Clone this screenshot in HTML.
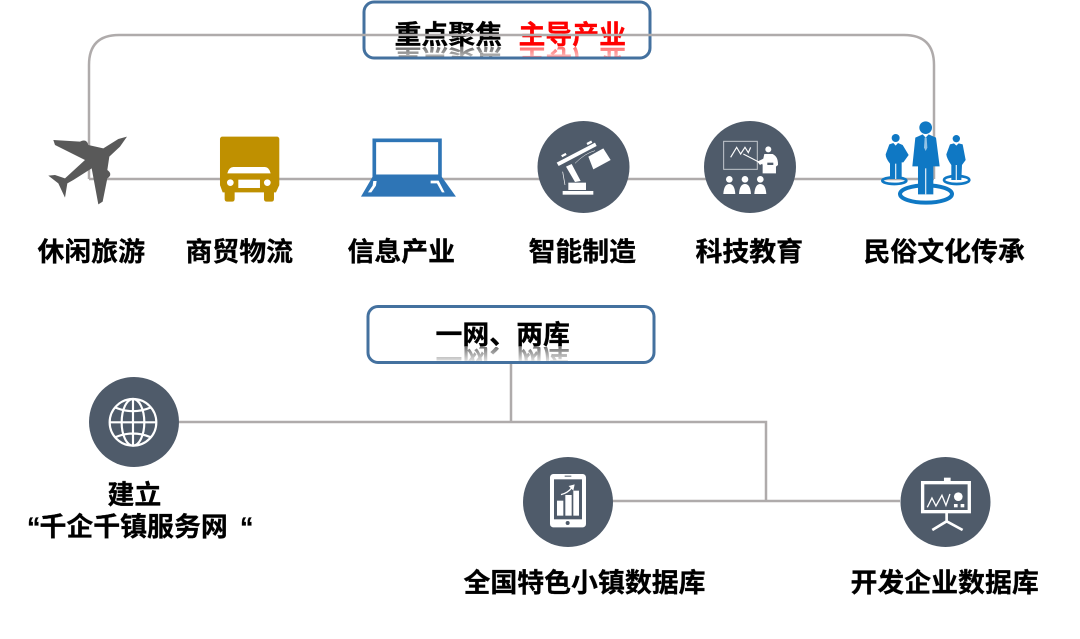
<!DOCTYPE html>
<html><head><meta charset="utf-8"><style>
html,body{margin:0;padding:0;background:#fff;width:1080px;height:639px;overflow:hidden}
svg{display:block}
text{font-family:"Liberation Sans","Noto Sans CJK SC",sans-serif;font-weight:700;font-size:26.9px;fill:#000;stroke:#000;stroke-width:.3px}
</style></head><body>
<svg width="1080" height="639" viewBox="0 0 1080 639" xmlns="http://www.w3.org/2000/svg">
<defs>
<linearGradient id="gb" x1="0" y1="1" x2="0" y2="0"><stop offset="0.05" stop-color="#000" stop-opacity=".65"/><stop offset="0.72" stop-color="#000" stop-opacity=".04"/><stop offset="0.8" stop-color="#000" stop-opacity="0"/></linearGradient>
<linearGradient id="gr" x1="0" y1="1" x2="0" y2="0"><stop offset="0.05" stop-color="#f00" stop-opacity=".65"/><stop offset="0.72" stop-color="#f00" stop-opacity=".04"/><stop offset="0.8" stop-color="#f00" stop-opacity="0"/></linearGradient>
<clipPath id="c1"><rect x="365" y="47" width="284" height="10"/></clipPath>
<clipPath id="c2"><rect x="369" y="347" width="284" height="14"/></clipPath>
</defs>

<!-- top box -->
<rect x="364" y="2" width="286" height="56" rx="10" fill="#fff" stroke="#44719f" stroke-width="3"/>
<g clip-path="url(#c1)"><g transform="translate(0,93) scale(1,-1)"><text x="394.500" y="44" style="fill:url(#gb);stroke:none">重点聚焦</text><text x="518.500" y="44" style="fill:url(#gr);stroke:none">主导产业</text></g></g>
<text x="394.500" y="44">重点聚焦</text>
<text x="518.500" y="44" style="fill:#f00;stroke:#f00">主导产业</text>

<!-- top connectors -->
<path d="M89 179V65Q89 35 119 35H904Q934 35 934 65V179M89 179H934" fill="none" stroke="#afabab" stroke-width="2.5"/>

<!-- plane -->
<g transform="translate(30,115) scale(.3333)">
<path fill="#595959" d="M291 65L265 72L220 100L175 90Q170 70 150 80L70 75L75 90L165 135L105 190L75 180L55 182L85 205L105 248L112 205L130 195L185 160L205 268L218 260L232 190Q250 178 232 165L238 125L270 95Z"/>
</g>

<!-- truck -->
<g transform="translate(30,115) scale(.3333)">
<rect x="570" y="65" width="178" height="150" rx="7" fill="#bf9000"/>
<path d="M570 210H748L738 232H732V252Q732 260 724 260H710Q702 260 702 252V232H614V252Q614 260 606 260H592Q584 260 584 252V232H578Z" fill="#bf9000"/>
<path d="M592 175Q596 157 610 156H705Q718 157 722 175Z" fill="#fff"/>
<circle cx="601" cy="203" r="10" fill="#fff"/><circle cx="712" cy="203" r="10" fill="#fff"/>
<rect x="625" y="194" width="65" height="25" fill="#fff"/>
</g>

<!-- laptop -->
<g transform="translate(30,115) scale(.3333)">
<rect x="1033" y="76" width="197" height="108" fill="#fff" stroke="#2e75b6" stroke-width="11"/>
<path d="M1028 185H1235L1278 245H993Z" fill="#2e75b6"/>
<path d="M1030 198L1028 212L1014 232L1024 232L1038 212L1040 198Z" fill="#fff"/>
<path d="M1202 197H1226L1244 232H1236L1221 205H1202Z" fill="#fff"/>
</g>

<!-- robot arm circle -->
<circle cx="583.500" cy="167" r="46" fill="#4f5b6a"/>
<g transform="translate(520,110) scale(.3333)" fill="#fff">
<rect x="128" y="243" width="92" height="11"/>
<rect x="145" y="218" width="53" height="22"/>
<path d="M138 170L155 162L182 213L165 216Z"/>
<path d="M110 158L225 98L230 108L116 168Z"/>
<rect x="124" y="132" width="15" height="7" transform="rotate(-28 131 135)"/>
<rect x="200" y="95" width="16" height="7" transform="rotate(-28 208 98)"/>
<path d="M205 140L250 115L272 150L220 178Z"/>
<path d="M165 160Q195 130 225 122" fill="none" stroke="#fff" stroke-width="1.500"/>
<path d="M128 185L135 225" fill="none" stroke="#fff" stroke-width="2"/>
</g>

<!-- teaching circle -->
<circle cx="750" cy="167" r="46" fill="#4f5b6a"/>
<g transform="translate(520,110) scale(.3333)" fill="#fff">
<rect x="611" y="94" width="101" height="84" fill="none" stroke="#c3c8ce" stroke-width="3"/>
<path d="M632 142L650 112L662 132L675 112L685 128L692 112" fill="none" stroke="#fff" stroke-width="3.500"/>
<path d="M670 132L728 162" stroke="#fff" stroke-width="3" fill="none"/>
<circle cx="745" cy="118" r="9"/>
<path d="M733 132H758Q775 140 774 165L768 170V190H728V160L720 165L712 155L730 146Z"/>
<rect x="742" y="158" width="18" height="7" fill="#4f5b6a"/>
<circle cx="628" cy="208" r="10"/><path d="M610 252Q612 222 628 222Q644 222 646 252Z"/>
<circle cx="675" cy="208" r="10"/><path d="M657 252Q659 222 675 222Q691 222 693 252Z"/>
<circle cx="721" cy="208" r="10"/><path d="M703 252Q705 222 721 222Q737 222 739 252Z"/>
</g>

<!-- people -->
<g transform="translate(880,115) scale(.3333)" fill="#0f78c4">
<ellipse cx="43" cy="197" rx="36" ry="10" fill="none" stroke="#0f78c4" stroke-width="8"/>
<ellipse cx="230" cy="195" rx="38" ry="12" fill="none" stroke="#0f78c4" stroke-width="8"/>
<ellipse cx="138" cy="237" rx="78" ry="26" fill="none" stroke="#0f78c4" stroke-width="12"/>
<circle cx="137" cy="38" r="19"/>
<path d="M106 68L128 58L137 68L146 58L168 68L179 154H160L160 238H114L114 154H97Z"/>
<rect x="135" y="160" width="4" height="78" fill="#fff" opacity=".8"/>
<path d="M134 68L140 68L142 98L137 108L132 98Z" fill="#fff" opacity=".55"/>
<circle cx="47" cy="69" r="12"/>
<path d="M28 88L40 84L47 92L54 84L68 90L86 120L70 142H65V192H30V146Q17 130 17 118Z"/>
<rect x="45" y="146" width="4" height="46" fill="#fff" opacity=".8"/>
<circle cx="229" cy="71" r="11"/>
<path d="M210 88L222 85L229 92L236 85L248 88L257 135L246 150L244 195H214V150Q200 130 199 118Z"/>
<rect x="227" y="150" width="4" height="45" fill="#fff" opacity=".8"/>
</g>

<!-- top labels -->
<text x="37.500" y="261">休闲旅游</text>
<text x="185.500" y="261">商贸物流</text>
<text x="347.500" y="261">信息产业</text>
<text x="528.500" y="261">智能制造</text>
<text x="695.500" y="261">科技教育</text>
<text x="863.500" y="261">民俗文化传承</text>

<!-- lower box -->
<rect x="368" y="306.500" width="286" height="56" rx="10" fill="#fff" stroke="#44719f" stroke-width="3"/>
<g clip-path="url(#c2)"><g transform="translate(0,692) scale(1,-1)"><text x="435.500" y="344" style="fill:url(#gb);stroke:none">一网、两库</text></g></g>
<text x="435.500" y="344">一网、两库</text>

<!-- lower connectors -->
<path d="M511 364V422M179 422H766V501M612 501H900" fill="none" stroke="#afabab" stroke-width="2.500"/>

<!-- globe -->
<circle cx="134" cy="422" r="45" fill="#4f5b6a"/>
<g transform="translate(20,370) scale(.3333)" fill="none" stroke="#fff" stroke-width="6.500">
<circle cx="339" cy="157" r="70"/>
<ellipse cx="339" cy="157" rx="34" ry="70"/>
<path d="M339 87V227M269 157H409M285 112Q339 135 393 112M285 202Q339 179 393 202"/>
</g>

<!-- tablet -->
<circle cx="568" cy="502" r="45" fill="#4f5b6a"/>
<g transform="translate(510,450) scale(.3333)">
<rect x="120" y="72" width="108" height="160" rx="10" fill="#fff"/>
<rect x="132" y="88" width="84" height="120" fill="#4f5b6a"/>
<rect x="164" y="77" width="20" height="3" fill="#4f5b6a"/>
<circle cx="173" cy="219" r="6" fill="#4f5b6a"/>
<rect x="141" y="152" width="19" height="45" fill="#fff"/>
<rect x="166" y="135" width="19" height="62" fill="#fff"/>
<rect x="190" y="122" width="17" height="75" fill="#fff"/>
<path d="M153 134Q175 128 186 112" fill="none" stroke="#fff" stroke-width="4"/>
<path d="M176 108L194 103L190 122Z" fill="#fff"/>
</g>

<!-- board -->
<circle cx="945.500" cy="502" r="45" fill="#4f5b6a"/>
<g transform="translate(510,450) scale(.3333)">
<rect x="1302" y="83" width="20" height="12" fill="#fff"/>
<rect x="1238" y="98" width="140" height="87" fill="none" stroke="#fff" stroke-width="10"/>
<path d="M1252 172L1266 144L1278 168L1296 136L1308 166L1320 132" fill="none" stroke="#fff" stroke-width="4"/>
<circle cx="1345" cy="140" r="13" fill="#fff"/>
<rect x="1332" y="162" width="11" height="10" fill="#fff"/>
<rect x="1352" y="162" width="11" height="10" fill="#fff"/>
<path d="M1310 188V214M1310 214L1267 240M1310 214L1358 240" fill="none" stroke="#fff" stroke-width="8"/>
</g>

<!-- lower labels -->
<text x="107.500" y="504">建立</text>
<text x="27" y="536">“</text>
<text x="39.500" y="536">千企千镇服务网</text>
<text x="240" y="536">“</text>
<text x="463.500" y="592">全国特色小镇数据库</text>
<text x="850.500" y="592">开发企业数据库</text>
</svg>
</body></html>
